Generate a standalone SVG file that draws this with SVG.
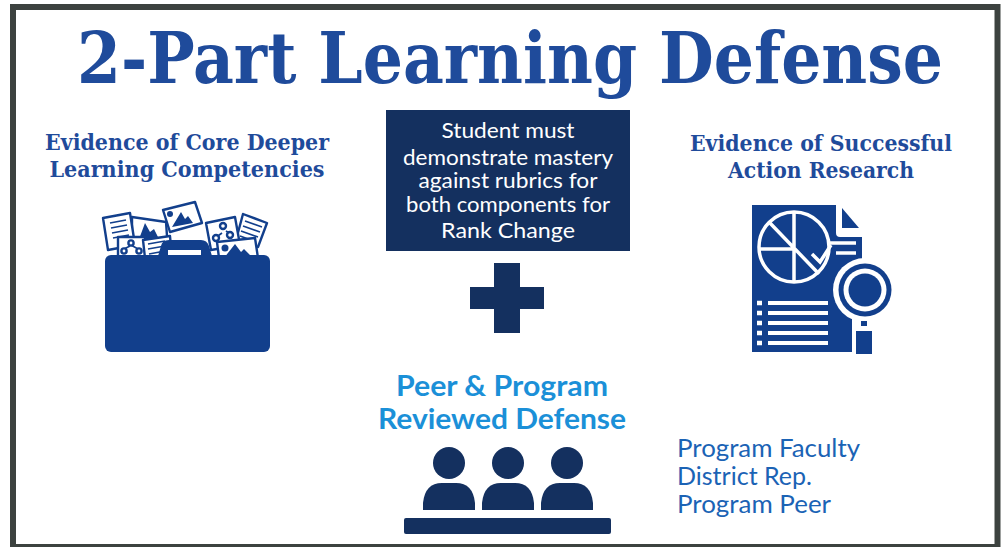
<svg xmlns="http://www.w3.org/2000/svg" width="1001" height="547" viewBox="0 0 1001 547">
<style>
.ti{font-family:"DejaVu Serif","Liberation Serif",serif;font-weight:700;fill:#1f4b9b}
.h{font-family:"DejaVu Serif","Liberation Serif",serif;font-weight:700;font-size:22px;fill:#1f4b9b;text-anchor:middle}
.c{font-family:"Lato","Noto Sans",sans-serif;font-size:22px;fill:#fff;text-anchor:middle}
.b{font-family:"Lato","Noto Sans",sans-serif;font-weight:700;font-size:29px;fill:#1b90d8;text-anchor:middle}
.p{font-family:"Lato","Noto Sans",sans-serif;font-size:25px;fill:#1b63b5}
.d{fill:#123f8c}.n{fill:#14305f}
.w{fill:none;stroke:#fff;stroke-width:3.5}
.o{fill:#fff;stroke:#123f8c;stroke-width:2.4;stroke-linejoin:round}
.l{fill:none;stroke:#123f8c;stroke-width:1.7}
</style>
<rect width="1001" height="547" fill="#fff"/>
<rect x="13" y="7" width="984.5" height="540" fill="#fff" stroke="#3c423f" stroke-width="6"/>
<g id="title"><text class="ti" x="77" y="83" font-size="71" textLength="866" lengthAdjust="spacingAndGlyphs">2-Part Learning Defense</text></g>
<g id="left-node">
<text class="h" x="187" y="150" textLength="284" lengthAdjust="spacingAndGlyphs">Evidence of Core Deeper</text>
<text class="h" x="187" y="177" textLength="275" lengthAdjust="spacingAndGlyphs">Learning Competencies</text>
<g id="folder-papers">
<polygon class="o" points="132,217 166,222 168,250 132,250"/>
<path class="d" d="M135 250l10-27 5 9 4-3 6 12 5 9z"/>
<polygon class="o" points="103,218 130,213 135,245 108,250"/>
<path class="l" d="M110 223l16-3M111 228l16-3M112 233l16-3M113 238l16-3"/>
<polygon class="o" points="163,210 195,202 202,223 170,232"/>
<path class="d" d="M172 227l9-15 4 7 3-3 5 7z"/><circle class="d" cx="170" cy="214" r="3"/>
<polygon class="o" points="118,237 145,237 147,258 118,258"/>
<path class="l" d="M122 250l8-4M131 245l7 4"/>
<circle class="o" cx="131" cy="243" r="2.6" stroke-width="1.7"/><circle class="o" cx="124" cy="251" r="2.6" stroke-width="1.7"/><circle class="o" cx="139" cy="251" r="2.6" stroke-width="1.7"/>
<polygon class="o" points="143,240 170,236 172,258 145,258"/>
<path class="l" d="M148 244l17-3M148 249l17-3M149 254l16-3"/>
<polygon class="o" points="243,214 267,223 258,247 236,240"/>
<path class="l" d="M245 221l17 6M243 226l17 6M241 231l17 6M240 236l16 6"/>
<polygon class="o" points="206,223 235,217 240,245 211,250"/>
<path class="l" d="M215 238l7-5M226 231l6 4"/>
<circle class="o" cx="223" cy="226" r="3" stroke-width="1.7"/><circle class="o" cx="216" cy="238" r="3" stroke-width="1.7"/><circle class="o" cx="230" cy="235" r="3" stroke-width="1.7"/>
<polygon class="o" points="217,242 255,238 258,258 219,258"/>
<path class="d" d="M224 258l11-14 6 8 3-3 9 9z"/><circle class="d" cx="225" cy="248" r="3.5"/>
</g>
<path class="d" d="M158 256l3-10q1-6 8-6h32q6 0 8 6l3 10z"/>
<rect x="168" y="250" width="33" height="6" fill="#fff"/>
<rect class="d" x="105" y="255" width="165" height="97" rx="6"/>
</g>
<g id="center-node">
<rect class="n" x="386" y="110" width="244" height="141"/>
<text class="c" x="508" y="138" textLength="133" lengthAdjust="spacingAndGlyphs">Student must</text>
<text class="c" x="508" y="165" textLength="210" lengthAdjust="spacingAndGlyphs">demonstrate mastery</text>
<text class="c" x="508" y="188" textLength="179" lengthAdjust="spacingAndGlyphs">against rubrics for</text>
<text class="c" x="508" y="212" textLength="204" lengthAdjust="spacingAndGlyphs">both components for</text>
<text class="c" x="508" y="238" textLength="134" lengthAdjust="spacingAndGlyphs">Rank Change</text>
</g>
<g id="plus"><path class="n" d="M494 263h26v24h24v22h-24v24h-26v-24h-24v-22h24z"/></g>
<g id="right-node">
<text class="h" x="821" y="151" textLength="262" lengthAdjust="spacingAndGlyphs">Evidence of Successful</text>
<text class="h" x="821" y="178" textLength="186" lengthAdjust="spacingAndGlyphs">Action Research</text>
<path class="d" d="M752 205h84v28q0 4 4 4h22v60l-10 20v35h-100z"/>
<path class="d" d="M842 208l17 20h-17z"/>
<g class="w">
<circle cx="794" cy="247" r="35"/>
<path d="M794 212v70M759 249h35M769 222l50 52M812 254l8 8 11-17"/>
<path d="M830 243h26M836 253h20"/>
<path stroke-width="4" d="M768 303h60M768 313h60M768 323h60M768 333h60M768 343h60"/>
<path stroke-width="4.5" d="M757 303h5M757 313h5M757 323h5M757 333h5M757 343h5"/>
</g>
<circle cx="865" cy="290" r="32" fill="#fff"/>
<circle cx="865" cy="290" r="26.5" class="d"/>
<circle cx="865" cy="290" r="21.5" fill="#fff"/>
<circle cx="865" cy="290" r="16.5" class="d"/>
<rect x="852" y="320" width="25" height="36" fill="#fff"/>
<rect class="d" x="856" y="331" width="16" height="23"/>
<rect class="d" x="861" y="321" width="6" height="5"/>
</g>
<g id="bottom-node">
<text class="b" x="502" y="396" textLength="212" lengthAdjust="spacingAndGlyphs">Peer &amp; Program</text>
<text class="b" x="502" y="429" textLength="248" lengthAdjust="spacingAndGlyphs">Reviewed Defense</text>
<g class="n">
<circle cx="449" cy="463" r="16"/><circle cx="508" cy="463" r="16"/><circle cx="567" cy="463" r="16"/>
<path d="M423 510v-7q2-20 19-20h14q17 0 19 20v7z"/>
<path d="M482 510v-7q2-20 19-20h14q17 0 19 20v7z"/>
<path d="M541 510v-7q2-20 19-20h14q17 0 19 20v7z"/>
<rect x="404" y="518" width="207" height="16" rx="2"/>
</g>
<text class="p" x="677" y="457" textLength="183" lengthAdjust="spacingAndGlyphs">Program Faculty</text>
<text class="p" x="677" y="485" textLength="135" lengthAdjust="spacingAndGlyphs">District Rep.</text>
<text class="p" x="677" y="513" textLength="154" lengthAdjust="spacingAndGlyphs">Program Peer</text>
</g>
<g id="connectors"></g>
</svg>
